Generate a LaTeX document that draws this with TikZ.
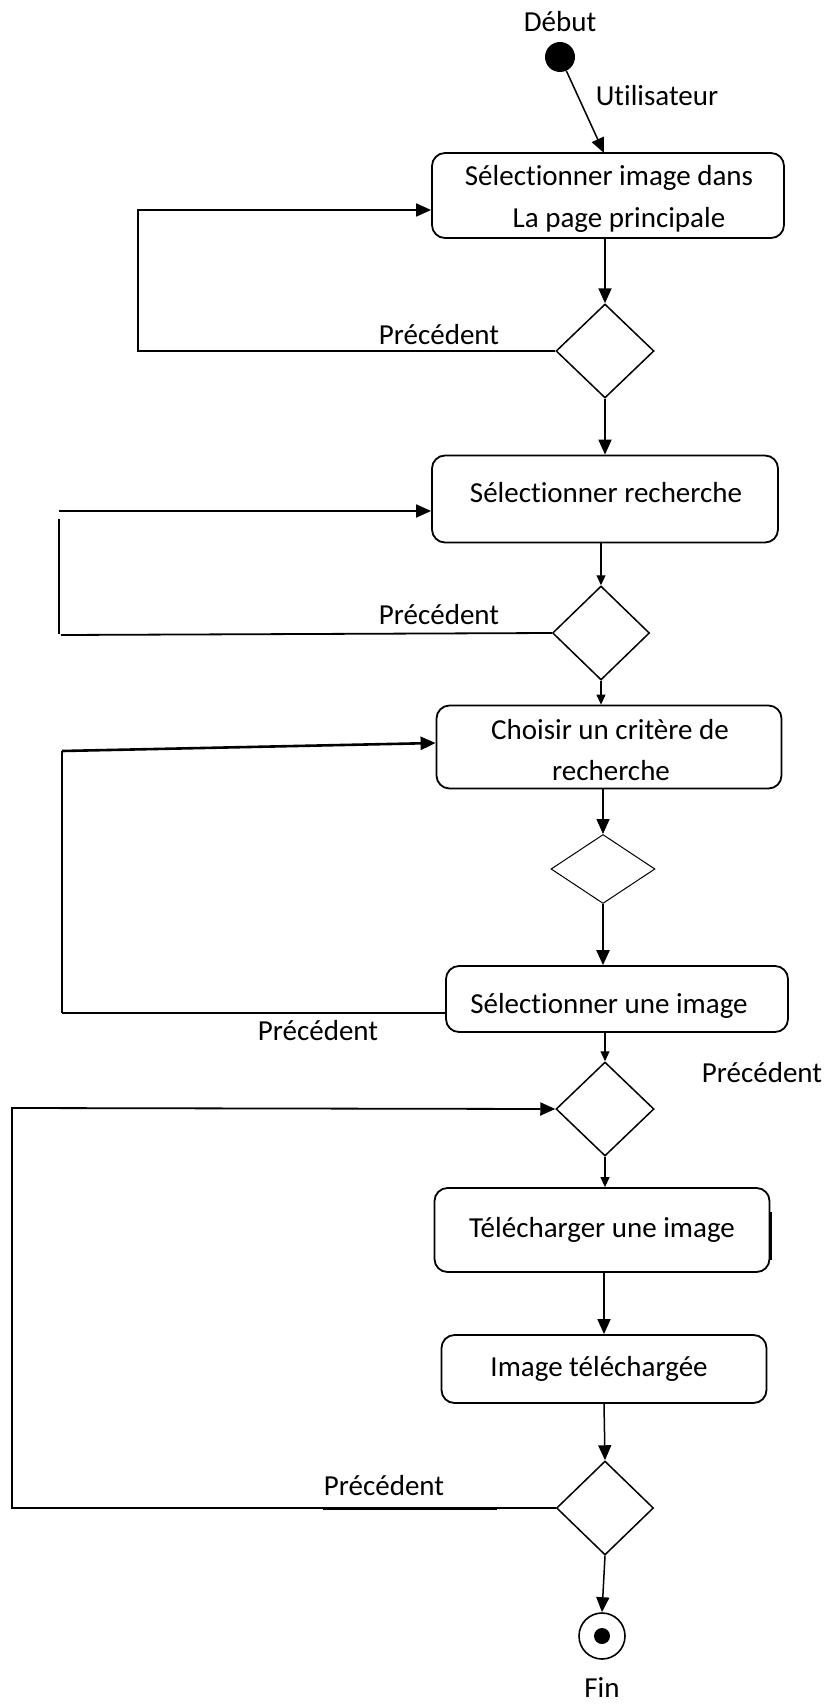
\documentclass[tikz,border=0pt]{standalone}
\usepackage{fontspec}
\setmainfont{Carlito}[Ligatures={NoCommon}]
\usetikzlibrary{arrows.meta,shapes.geometric}

\begin{document}
\begin{tikzpicture}[x=1pt,y=-1pt,
  line join=miter,
  every node/.style={font=\fontsize{29}{35}\selectfont},
  action/.style={draw, line width=1.8pt, rounded corners=13pt, inner sep=0pt},
  decision/.style={draw, diamond, line width=1.5pt, inner sep=0pt},
  lbl/.style={inner sep=0pt},
  wire/.style={line width=1.8pt},
  flow/.style={line width=1.8pt, -{Triangle[length=15pt,width=13pt]}},
  thinflow/.style={line width=1.1pt, -{Triangle[length=10pt,width=9pt]}}
]
\useasboundingbox (0,0) rectangle (826,1704);

% start and end states
\node[lbl] (tdebut) at (560,22) {Début};
\node[circle, fill=black, minimum size=30pt, inner sep=0pt] (start) at (560,57) {};
\node[lbl] (tuser) at (657,96) {Utilisateur};

\node[circle, draw, line width=1.6pt, minimum size=46pt, inner sep=0pt] (stop) at (602,1636) {};
\node[circle, fill=black, minimum size=16pt, inner sep=0pt] (stopdot) at (602,1636) {};
\node[lbl] (tfin) at (602,1688) {Fin};

% actions
\node[action, minimum width=352pt, minimum height=85pt] (b1) at (608,195.5) {};
\node[lbl] (b1a) at (609,178) {Sélectionner image dans};
\node[lbl] (b1b) at (619,220) {La page principale};

\node[action, minimum width=346pt, minimum height=87pt] (b2) at (605,499) {};
\node[lbl] (b2a) at (606,493) {Sélectionner recherche};

\node[action, minimum width=345pt, minimum height=83pt] (b3) at (609,747) {};
\node[lbl] (b3a) at (610,730) {Choisir un critère de};
\node[lbl] (b3b) at (611,771) {recherche};

\node[action, minimum width=342pt, minimum height=66pt] (b4) at (617,999) {};
\node[lbl] (b4a) at (609,1006) {Sélectionner une image};

\node[action, minimum width=335pt, minimum height=84pt] (b5) at (602,1230) {};
\node[lbl] (b5a) at (602,1230) {Télécharger une image};

\node[action, minimum width=325pt, minimum height=68pt] (b6) at (604,1369) {};
\node[lbl] (b6a) at (599,1369) {Image téléchargée};

% decisions
\node[decision, minimum width=98pt, minimum height=94pt] (d1) at (605,351) {};
\node[decision, minimum width=97pt, minimum height=94pt] (d2) at (601,633) {};
\node[decision, line width=1pt, minimum width=104pt, minimum height=69pt] (d3) at (603,869) {};
\node[decision, minimum width=98pt, minimum height=94pt] (d4) at (605,1109) {};
\node[decision, minimum width=97pt, minimum height=94pt] (d5) at (605,1508) {};

% "Précédent" labels
\node[lbl] (p1) at (439,335) {Précédent};
\node[lbl] (p2) at (439,615) {Précédent};
\node[lbl] (p3) at (318,1031) {Précédent};
\node[lbl] (p4) at (762,1073) {Précédent};
\node[lbl] (p5) at (384,1486) {Précédent};

% main flow
\coordinate (t1) at (604,153);
\draw[flow, line width=1.5pt] (start) -- (t1);
\draw[flow] (b1.south -| d1.north) -- (d1.north);
\draw[flow] (d1.south) -- (b2.north -| d1.south);
\draw[thinflow] (b2.south -| d2.north) -- (d2.north);
\draw[thinflow] (d2.south) -- (b3.north -| d2.south);
\draw[flow, line width=1.5pt] (b3.south -| d3.north) -- (d3.north);
\draw[flow, line width=2.4pt] (d3.south) -- (b4.north -| d3.south);
\draw[thinflow] (b4.south -| d4.north) -- (d4.north);
\draw[thinflow] (d4.south) -- (b5.north -| d4.south);
\draw[flow] (b5.south -| b6.north) -- (b6.north);
\draw[flow, line width=1.5pt] (b6.south) -- (d5.north);
\draw[flow, line width=1.5pt] (d5.south) -- (stop.north);

% loop back to the first action
\coordinate (l1a) at (138,351);
\coordinate (l1b) at (138,210);
\draw[flow] (d1.west) -- (l1a) -- (l1b) -- (b1.west |- l1b);

% loop back to the search action
\coordinate (l2a) at (59,511);
\coordinate (l2b) at (59,519);
\coordinate (l2c) at (59,634);
\coordinate (l2d) at (61,635);
\draw[flow] (l2a) -- (b2.west |- l2a);
\draw[wire] (l2b) -- (l2c);
\draw[wire] (d2.west) -- (l2d);

% loop back to the criterion action
\coordinate (l3a) at (62,751);
\coordinate (l3b) at (62,1013);
\coordinate (l3t) at (b3.west |- {(0,743)});
\draw[flow, line width=2.6pt] (l3a) -- (l3t);
\draw[wire, line width=1.5pt] (l3a) -- (l3b);
\draw[wire] (b4.west |- l3b) -- (l3b);

% loop from the last decision back to the download decision
\coordinate (l4a) at (12,1508);
\coordinate (l4b) at (12,1108);
\draw[flow] (d5.west) -- (l4a) -- (l4b) -- (d4.west);
\coordinate (u1) at (323,1508);
\coordinate (u2) at (497,1508);
\draw[line width=3pt] (u1) -- (u2);

% heavier stroke on the right side of the download action
\coordinate (m1) at (770,1212);
\coordinate (m2) at (770,1260);
\draw[line width=3pt] (b5.east |- m1) -- (b5.east |- m2);
\end{tikzpicture}
\end{document}
